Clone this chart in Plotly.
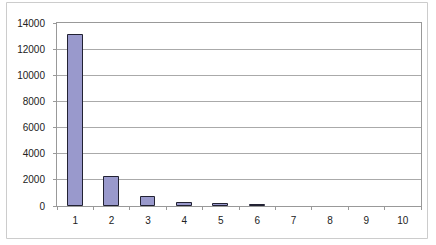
import plotly.graph_objects as go

categories = ["1", "2", "3", "4", "5", "6", "7", "8", "9", "10"]
values = [13100, 2250, 700, 260, 150, 70, 0, 0, 0, 0]
y_ticks = [0, 2000, 4000, 6000, 8000, 10000, 12000, 14000]
y_tick_labels = ["0", "2000", "4000", "6000", "8000", "10000", "12000", "14000"]

L, R, T, B = 57, 15, 23, 39
W, H = 436, 245
pw, ph = W - L - R, H - T - B

def px_x(px):
    return (px - L) / pw

def px_y(py):
    return (H - B - py) / ph

fig = go.Figure(go.Bar(
    x=categories, y=values,
    marker=dict(color="#9999cc",
                line=dict(color="#222233", width=[1 if v > 0 else 0 for v in values])),
    width=0.41,
))

fig.update_layout(
    width=W, height=H,
    margin=dict(l=L, r=R, t=T, b=B, autoexpand=False),
    paper_bgcolor="white", plot_bgcolor="white",
    font=dict(family="Liberation Sans, Arial, sans-serif", size=10, color="#222222"),
    showlegend=False,
    bargap=0,
    xaxis=dict(type="category", tickson="boundaries", ticks="outside", ticklen=3,
               tickcolor="#999999", showline=True, linecolor="#999999", mirror=True,
               showgrid=False, tickfont=dict(size=10), automargin=False,
               ticklabelstandoff=5),
    yaxis=dict(range=[0, 14000], tickvals=y_ticks, ticktext=y_tick_labels,
               ticks="outside", ticklen=3,
               tickcolor="#999999", showline=True, linecolor="#999999", mirror=True,
               showgrid=True, gridcolor="#aaaaaa", gridwidth=1, zeroline=False,
               tickfont=dict(size=10), automargin=False, ticklabelstandoff=6),
    shapes=[dict(type="rect", xref="paper", yref="paper",
                 x0=px_x(6.5), x1=px_x(427.5), y0=px_y(238.5), y1=px_y(2.5),
                 line=dict(color="#cccccc", width=1), fillcolor="rgba(0,0,0,0)", layer="above")],
)

fig.write_html("out.html", config={"displayModeBar": False},
               post_script="document.body.style.margin='0';document.body.style.overflow='hidden';")
